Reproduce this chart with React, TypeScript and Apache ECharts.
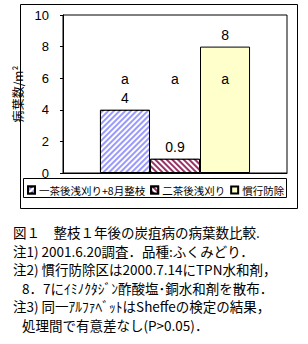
import React, { useEffect, useRef } from 'react';
import * as echarts from 'echarts';

const categories = [''];
const seriesNames = ['一茶後浅刈り+8月整枝', '二茶後浅刈り', '慣行防除'];
const values = [4, 0.9, 8];
const sigLetters = ['a', 'a', 'a'];
const sigLevel = [6, 6, 6];
const yMin = 0;
const yMax = 10;
const yInterval = 2;
const yName = '病葉数/m²';
const captionLines = [
  '図１　整枝１年後の炭疽病の病葉数比較.',
  '注1) 2001.6.20調査．品種:ふくみどり．',
  '注2) 慣行防除区は2000.7.14にTPN水和剤，',
  '8．7にｲﾐﾉｸﾀｼﾞﾝ酢酸塩･銅水和剤を散布．',
  '注3) 同一ｱﾙﾌｧﾍﾞｯﾄはSheffeの検定の結果，',
  '処理間で有意差なし(P>0.05)．',
];
const captionIndent = [0, 0, 0, 1, 0, 1];

const FONT = '"Noto Sans CJK JP", "Noto Sans", sans-serif';
const NUMFONT = '"Liberation Sans", Arial, sans-serif';

export default function App() {
  const ref = useRef<HTMLDivElement>(null);
  useEffect(() => {
    const chart = echarts.init(ref.current!, null, { renderer: 'svg' });
    const colors = ['#9999FF', '#993366', '#FFFFCC'];
    const decals: any[] = [
      { symbol: 'rect', symbolSize: 1, dashArrayX: [1, 0], dashArrayY: [1.4, 2], rotation: -Math.PI / 4, color: '#ffffff' },
      { symbol: 'rect', symbolSize: 1, dashArrayX: [1, 0], dashArrayY: [1.4, 2], rotation: Math.PI / 4, color: '#ffffff' },
      null,
    ];
    const mainSeries = seriesNames.map((name, i) => ({
      name,
      type: 'bar',
      xAxisIndex: 0,
      data: [values[i]],
      barGap: '0%',
      barCategoryGap: '33%',
      itemStyle: {
        color: colors[i],
        borderColor: '#000',
        borderWidth: 1,
        ...(decals[i] ? { decal: decals[i] } : {}),
      },
      label: {
        show: true,
        position: 'top',
        distance: 5,
        fontSize: 14,
        color: '#000',
        fontFamily: NUMFONT,
      },
    }));
    const sigSeries = sigLetters.map((letter, i) => ({
      name: 'sig' + i,
      type: 'bar',
      xAxisIndex: 1,
      data: [sigLevel[i]],
      barGap: '0%',
      barCategoryGap: '33%',
      silent: true,
      itemStyle: { color: 'rgba(0,0,0,0)' },
      label: {
        show: true,
        position: 'top',
        distance: 0,
        offset: [0, 8],
        fontSize: 14,
        color: '#000',
        fontFamily: NUMFONT,
        formatter: () => letter,
      },
    }));
    const graphics: any[] = [
      {
        type: 'rect',
        shape: { x: 20.5, y: 4.5, width: 277, height: 204 },
        style: { fill: 'none', stroke: '#000', lineWidth: 1 },
        silent: true,
      },
      {
        type: 'rect',
        shape: { x: 23.5, y: 178.5, width: 263, height: 19 },
        style: { fill: 'none', stroke: '#000', lineWidth: 1 },
        silent: true,
      },
      ...captionLines.map((t, i) => ({
        type: 'text',
        x: captionIndent[i] ? 22 : 13,
        y: 232 + i * 18.5,
        style: {
          text: t,
          fontSize: 13.5,
          lineHeight: 15,
          fontFamily: FONT,
          fill: '#000',
          verticalAlign: 'middle',
        },
      })),
    ];
    const option: any = {
      animation: false,
      textStyle: { fontFamily: FONT },
      grid: {
        left: 63,
        top: 15,
        right: 21,
        bottom: 171,
        show: true,
        borderColor: '#000',
        borderWidth: 1,
        backgroundColor: 'transparent',
      },
      legend: {
        data: seriesNames,
        left: 27,
        top: 184.5,
        width: 275,
        padding: 0,
        itemWidth: 7,
        itemHeight: 7,
        itemGap: 5,
        icon: 'rect',
        textStyle: { fontSize: 10.5, lineHeight: 11, color: '#000', fontFamily: FONT, padding: [0, 0, 0, -1] },
      },
      xAxis: [
        {
          type: 'category',
          data: categories,
          axisLine: { show: true, lineStyle: { color: '#000' } },
          axisTick: { show: false },
          axisLabel: { show: false },
        },
        {
          type: 'category',
          data: categories,
          show: false,
        },
      ],
      yAxis: {
        type: 'value',
        min: yMin,
        max: yMax,
        interval: yInterval,
        name: yName,
        nameLocation: 'middle',
        nameRotate: 90,
        nameGap: 38,
        nameTextStyle: { fontSize: 12, color: '#000', fontFamily: FONT },
        axisLine: { show: true, lineStyle: { color: '#000' } },
        axisTick: { show: true, length: 3, lineStyle: { color: '#000' } },
        axisLabel: { fontSize: 13, lineHeight: 12, color: '#000', margin: 14, fontFamily: NUMFONT },
        splitLine: { show: false },
      },
      series: [...mainSeries, ...sigSeries],
      graphic: graphics,
    };
    chart.setOption(option);
    return () => chart.dispose();
  }, []);
  return (
    <div
      ref={ref}
      style={{ position: 'absolute', left: 0, top: 0, width: 308, height: 344, background: '#fff' }}
    />
  );
}
